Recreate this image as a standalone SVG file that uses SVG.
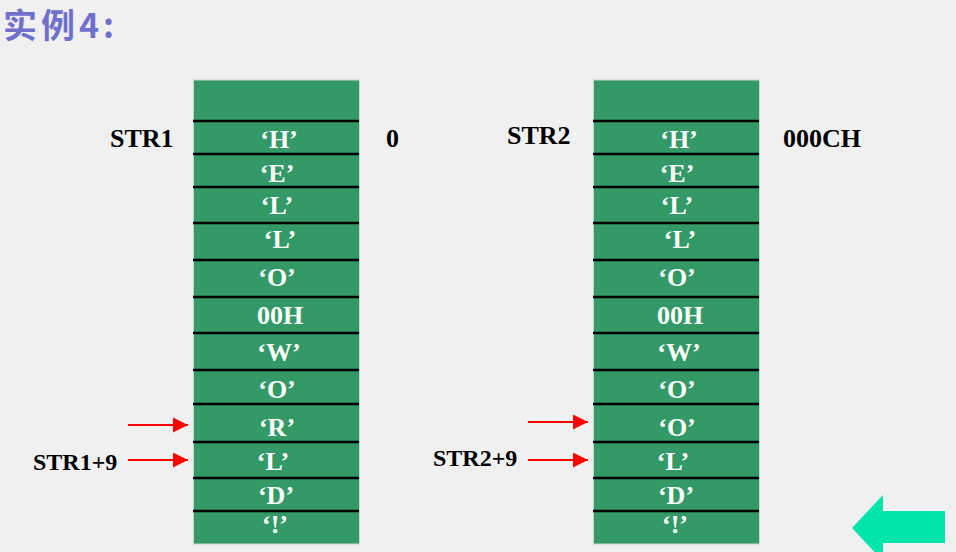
<svg xmlns="http://www.w3.org/2000/svg" width="956" height="552" viewBox="0 0 956 552">
<defs>
<style>
.bg{fill:#f0f0f0}
.col{fill:#339966;stroke:#c9d6cc;stroke-width:1}
.sep{stroke:#000;stroke-width:2.5}
.cell{font-family:"Liberation Serif",serif;font-weight:bold;font-size:26px;fill:#fff;text-anchor:middle}
.lbl{font-family:"Liberation Serif",serif;font-weight:bold;font-size:26px;fill:#000}
.lbl2{font-family:"Liberation Serif",serif;font-weight:bold;font-size:24px;fill:#000}
.title{font-family:"Noto Sans CJK SC",sans-serif;font-weight:bold;font-size:34px;fill:#7070cc}
.ptr{stroke:#ff0000;stroke-width:2;fill:none;marker-end:url(#ah)}
</style>
<marker id="ah" markerUnits="userSpaceOnUse" markerWidth="15" markerHeight="15" refX="15" refY="7.5" orient="auto">
<path d="M0,0 L15,7.5 L0,15 z" fill="#ff0000"/>
</marker>
</defs>
<rect class="bg" x="0" y="0" width="956" height="552"/>
<text class="title" x="3" y="38" letter-spacing="4">实例4:</text>

<g id="str1-memory">
<rect class="col" x="193.5" y="80" width="166" height="464"/>
<g class="sep">
<line x1="193" y1="121" x2="359" y2="121"/>
<line x1="193" y1="154" x2="359" y2="154"/>
<line x1="193" y1="187" x2="359" y2="187"/>
<line x1="193" y1="223" x2="359" y2="223"/>
<line x1="193" y1="260" x2="359" y2="260"/>
<line x1="193" y1="297" x2="359" y2="297"/>
<line x1="193" y1="333" x2="359" y2="333"/>
<line x1="193" y1="370" x2="359" y2="370"/>
<line x1="193" y1="404" x2="359" y2="404"/>
<line x1="193" y1="442" x2="359" y2="442"/>
<line x1="193" y1="478" x2="359" y2="478"/>
<line x1="193" y1="511" x2="359" y2="511"/>
</g>
<text class="cell" x="279" y="148">‘H’</text>
<text class="cell" x="277" y="182">‘E’</text>
<text class="cell" x="277" y="214">‘L’</text>
<text class="cell" x="280" y="248">‘L’</text>
<text class="cell" x="277" y="286">‘O’</text>
<text class="cell" x="280" y="324">00H</text>
<text class="cell" x="279" y="361">‘W’</text>
<text class="cell" x="277" y="398">‘O’</text>
<text class="cell" x="277" y="436">‘R’</text>
<text class="cell" x="273" y="470">‘L’</text>
<text class="cell" x="276" y="504">‘D’</text>
<text class="cell" x="275" y="533">‘!’</text>
</g>

<g id="str1-labels">
<text class="lbl" x="110" y="147">STR1</text>
<text class="lbl" x="386" y="147">0</text>
<text class="lbl2" x="33" y="470">STR1+9</text>
</g>

<g id="str2-memory">
<rect class="col" x="593.5" y="80" width="166" height="464"/>
<g class="sep">
<line x1="593" y1="121" x2="759" y2="121"/>
<line x1="593" y1="154" x2="759" y2="154"/>
<line x1="593" y1="187" x2="759" y2="187"/>
<line x1="593" y1="223" x2="759" y2="223"/>
<line x1="593" y1="260" x2="759" y2="260"/>
<line x1="593" y1="297" x2="759" y2="297"/>
<line x1="593" y1="333" x2="759" y2="333"/>
<line x1="593" y1="370" x2="759" y2="370"/>
<line x1="593" y1="404" x2="759" y2="404"/>
<line x1="593" y1="442" x2="759" y2="442"/>
<line x1="593" y1="478" x2="759" y2="478"/>
<line x1="593" y1="511" x2="759" y2="511"/>
</g>
<text class="cell" x="679" y="148">‘H’</text>
<text class="cell" x="677" y="182">‘E’</text>
<text class="cell" x="677" y="214">‘L’</text>
<text class="cell" x="680" y="248">‘L’</text>
<text class="cell" x="677" y="286">‘O’</text>
<text class="cell" x="680" y="324">00H</text>
<text class="cell" x="679" y="361">‘W’</text>
<text class="cell" x="677" y="398">‘O’</text>
<text class="cell" x="677" y="436">‘O’</text>
<text class="cell" x="673" y="470">‘L’</text>
<text class="cell" x="676" y="504">‘D’</text>
<text class="cell" x="675" y="533">‘!’</text>
</g>

<g id="str2-labels">
<text class="lbl" x="507" y="144">STR2</text>
<text class="lbl" x="783" y="147">000CH</text>
<text class="lbl2" x="433" y="466">STR2+9</text>
</g>

<g id="connectors">
<line class="ptr" x1="128" y1="425" x2="188" y2="425"/>
<line class="ptr" x1="128" y1="460" x2="188" y2="460"/>
<line class="ptr" x1="528" y1="422" x2="588" y2="422"/>
<line class="ptr" x1="528" y1="460" x2="588" y2="460"/>
</g>

<g id="back-arrow">
<polygon points="852,528 883,495 883,511 945,511 945,543 883,543 883,561" fill="#00e5aa"/>
</g>
</svg>
